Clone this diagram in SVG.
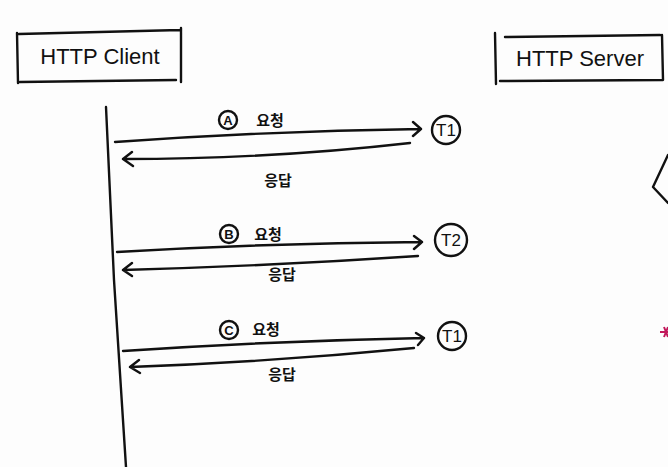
<svg xmlns="http://www.w3.org/2000/svg" width="668" height="467" viewBox="0 0 668 467">
<style>
.ln{fill:none;stroke:#111;stroke-width:2.4;stroke-linecap:round;stroke-linejoin:round}
.t{font-family:"Liberation Sans","Noto Sans CJK KR",sans-serif;fill:#111}
.hd{font-size:22px}
.kr{font-size:15px;font-weight:bold}
.lb{font-size:17px}
.cl{font-size:13px;font-weight:bold}
</style>
<rect width="668" height="467" fill="#fdfdfd"/>
<g id="client">
<path class="ln" d="M17,33 L18,83 M19,34 L180,30 M181,28 L181,82 M20,82 L176,80"/>
<text class="t hd" x="100" y="64" text-anchor="middle">HTTP Client</text>
</g>
<g id="server">
<path class="ln" d="M495,33 L496,84 M505,37 L660,35 M662,35 L663,80 M500,81 L662,80"/>
<text class="t hd" x="580" y="66" text-anchor="middle">HTTP Server</text>
</g>
<g id="lifeline">
<path class="ln" d="M106,107 L114,280 L126,467"/>
</g>
<g id="t1a">
<circle class="ln" cx="446" cy="130" r="14"/>
<text class="t lb" x="446" y="136" text-anchor="middle">T1</text>
</g>
<g id="t2">
<circle class="ln" cx="451" cy="240" r="16"/>
<text class="t lb" x="451" y="246" text-anchor="middle">T2</text>
</g>
<g id="t1c">
<circle class="ln" cx="452" cy="336" r="14"/>
<text class="t lb" x="452" y="342" text-anchor="middle">T1</text>
</g>
<g id="labels">
<circle class="ln" cx="228" cy="120" r="9"/>
<text class="t cl" x="228" y="125" text-anchor="middle">A</text>
<text class="t kr" x="270" y="126" text-anchor="middle">요청</text>
<text class="t kr" x="278" y="186" text-anchor="middle">응답</text>
<circle class="ln" cx="229" cy="234" r="9"/>
<text class="t cl" x="229" y="239" text-anchor="middle">B</text>
<text class="t kr" x="268" y="240" text-anchor="middle">요청</text>
<text class="t kr" x="282" y="280" text-anchor="middle">응답</text>
<circle class="ln" cx="229" cy="330" r="9"/>
<text class="t cl" x="229" y="335" text-anchor="middle">C</text>
<text class="t kr" x="266" y="335" text-anchor="middle">요청</text>
<text class="t kr" x="282" y="380" text-anchor="middle">응답</text>
</g>
<g id="connectors">
<path class="ln" d="M115,142 Q270,131 421,129 M413,122 L421,129 L413,136"/>
<path class="ln" d="M410,143 Q270,159 123,159 M132,152 L123,159 L133,166"/>
<path class="ln" d="M117,252 Q270,243 422,242 M414,236 L422,242 L414,249"/>
<path class="ln" d="M418,256 Q270,266 123,270 M132,263 L123,270 L132,276"/>
<path class="ln" d="M123,351 Q270,341 424,338 M416,333 L424,338 L418,345"/>
<path class="ln" d="M414,348 Q270,362 130,367 M139,360 L130,367 L140,373"/>
</g>
<g id="edge">
<path class="ln" d="M668,155 L653,187 L668,203"/>
<path d="M660,332 L668,332 M664,327 L668,337 M664,337 L668,327" stroke="#c2185b" stroke-width="2" fill="none"/>
</g>
</svg>
